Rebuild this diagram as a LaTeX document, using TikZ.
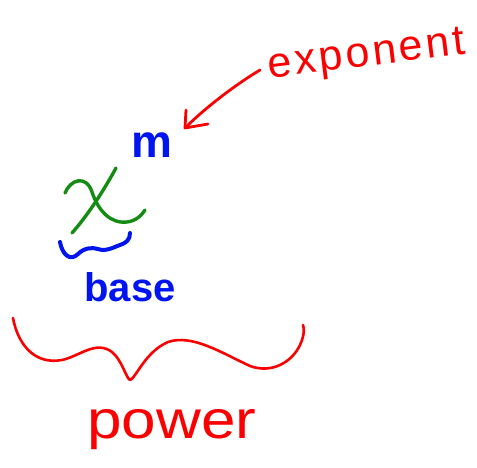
\documentclass[tikz,border=0pt]{standalone}
\usepackage{fontspec}
\setmainfont{Liberation Sans}
\newfontfamily\spacedfont[LetterSpace=7]{Liberation Sans}
\usetikzlibrary{arrows.meta}
\definecolor{inkred}{RGB}{250,0,0}
\definecolor{inkblue}{RGB}{0,20,240}
\definecolor{inkgreen}{RGB}{20,140,20}
\tikzset{
  pen/.style={line cap=round, line join=round},
  redpen/.style={pen, draw=inkred, line width=2.8pt},
  bluepen/.style={pen, draw=inkblue, line width=4pt},
  greenpen/.style={pen, draw=inkgreen, line width=3.4pt},
  label/.style={inner sep=0pt}
}
\begin{document}
\begin{tikzpicture}[x=1pt, y=-1pt]
  \useasboundingbox (0,0) rectangle (477,468);

  % labels
  \node[label, anchor=base, text=inkred, rotate=7, font=\spacedfont\fontsize{43}{43}\selectfont] (expo) at (368,66) {exponent};
  \node[label, anchor=base, text=inkblue, font=\bfseries\fontsize{46}{46}\selectfont] (m) at (152,158) {m};
  \node[label, anchor=base, text=inkblue, font=\bfseries\fontsize{40}{40}\selectfont] (base) at (130,301) {base};
  \node[label, anchor=base, text=inkred, font=\fontsize{54}{54}\selectfont, xscale=1.15] (power) at (172,438) {power};

  % handwritten x
  \coordinate (x1) at (65,193);
  \draw[greenpen] (x1) .. controls (70,180) and (86,174) .. (92,192)
    .. controls (98,210) and (110,224) .. (127,222)
    .. controls (136,221) and (142,215) .. (145,210);
  \draw[greenpen] (116,168) .. controls (104,190) and (88,215) .. (72,233);

  % small wavy brace under x
  \draw[bluepen] (60,242) .. controls (62,254) and (70,262) .. (78,254)
    .. controls (84,248) and (92,247) .. (98,249)
    .. controls (106,252) and (114,247) .. (120,245)
    .. controls (126,243) and (130,240) .. (130,233);

  % arrow from the word to the superscript
  \coordinate (tail) at (260,70);
  \coordinate (tip) at (185,128);
  \draw[redpen] (tail) .. controls (235,85) and (205,108) .. (tip);
  \draw[redpen] (186,110) -- (tip) -- (208,124);

  % large brace above the word
  \draw[redpen, line width=2.6pt] (13,318) .. controls (18,345) and (35,365) .. (62,360)
    .. controls (80,356) and (96,340) .. (112,352)
    .. controls (122,360) and (126,378) .. (130,380)
    .. controls (136,378) and (145,352) .. (168,342)
    .. controls (192,334) and (220,352) .. (250,366)
    .. controls (272,374) and (292,362) .. (300,345)
    .. controls (305,334) and (304,328) .. (303,325);
\end{tikzpicture}
\end{document}
